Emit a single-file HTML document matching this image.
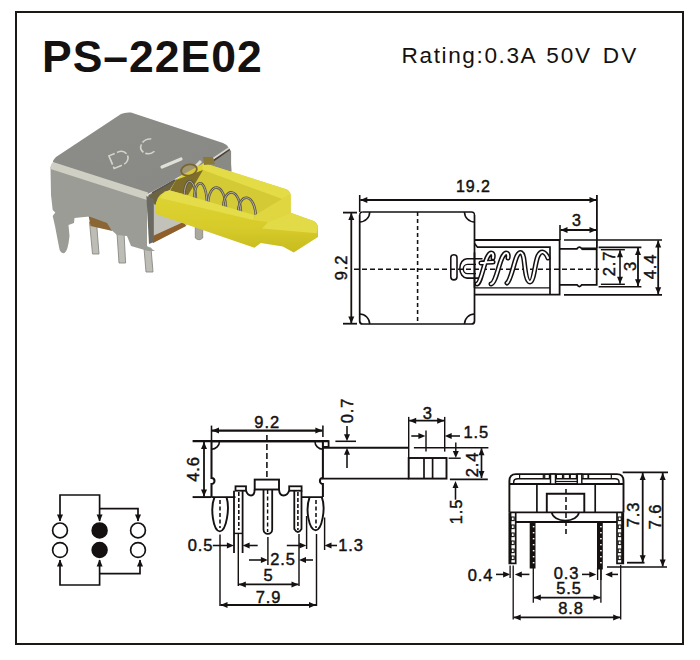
<!DOCTYPE html>
<html><head><meta charset="utf-8"><style>
html,body{margin:0;padding:0;background:#fff;}
body{width:700px;height:660px;overflow:hidden;position:relative;}
svg{position:absolute;left:0;top:0;}
text{font-family:"Liberation Sans",sans-serif;fill:#141110;}
.d text{stroke:#141110;stroke-width:0.45px;}
</style></head><body>
<svg width="700" height="660" viewBox="0 0 700 660">
<defs>
<filter id="soft" x="-5%" y="-5%" width="110%" height="110%"><feGaussianBlur stdDeviation="0.7"/></filter>
<linearGradient id="gTop" x1="0" y1="0" x2="1" y2="1"><stop offset="0" stop-color="#8c8c88"/><stop offset="1" stop-color="#888884"/></linearGradient>
<linearGradient id="gFront" x1="0" y1="0" x2="0" y2="1"><stop offset="0" stop-color="#aaaaa6"/><stop offset="1" stop-color="#a2a29e"/></linearGradient>
<linearGradient id="gYel" gradientUnits="userSpaceOnUse" x1="0" y1="195" x2="0" y2="250"><stop offset="0" stop-color="#ddd332"/><stop offset="0.6" stop-color="#d6cb2a"/><stop offset="1" stop-color="#c9bd22"/></linearGradient>
</defs>
<rect x="16" y="12" width="667" height="632" fill="none" stroke="#1c1816" stroke-width="2"/>
<text x="42" y="72" font-size="44.5" font-weight="bold" letter-spacing="1">PS&#8211;22E02</text>
<text y="63.3" font-size="22.6"><tspan x="401.6" letter-spacing="1.6">Rating:0.3A</tspan><tspan x="546.3" letter-spacing="1.8">50V</tspan><tspan x="602.8" letter-spacing="2.2">DV</tspan></text>
<g id="photo" filter="url(#soft)">
<path d="M195.3,226 H202.7 V238 Q199,241.5 195.3,238 Z" fill="#aaa89e" stroke="#858278" stroke-width="0.8"/>
<polygon points="89.5,222 96.5,222 99,254 92.5,254" fill="#bdbdb6" stroke="#8a8a84" stroke-width="0.9"/>
<polygon points="117,233 124,233 125.6,263 119,263" fill="#bdbdb6" stroke="#8a8a84" stroke-width="0.9"/>
<polygon points="144,248 151,248 153,272 146,272" fill="#bdbdb6" stroke="#8a8a84" stroke-width="0.9"/>
<polygon points="88.5,215.5 108,222 112.5,231 90.5,226" fill="#8a6634"/>
<polygon points="148,196 229,149 232,171 200,205 186,226 153,243" fill="#c2c2ba"/>
<polygon points="148,195 229,149 231.1,151 231.1,172 202,163 178,178 155,203" fill="#8a8a85"/>
<polygon points="148,196 190,172 202,170 176,180 169.7,190.3 155,205" fill="#6e6440"/>
<polygon points="150.6,237 183.5,222 186,226 153,243" fill="#8e5e2a"/>
<path d="M202,162.5 L287,189.5 Q290.5,191.5 290.7,195 L290.7,212.7 L314.3,221.2 Q317.5,223 318,226 L318,236.9 L293.7,252.6 L282.8,246.5 L260.8,243 L254.4,247.8 L155.9,214 L155.9,203 Q158,193 169.7,190.3 L178,178 Z" fill="url(#gYel)"/>
<polygon points="202,162.5 287,189.5 290.5,194 282,199 203,171" fill="#e4dc46"/>
<polygon points="176,180 203,170 282,199 255,215.3 170,190.7" fill="#d4ca34"/>
<polygon points="176,180 203,170 196,182 188,195 170,190.7" fill="#7e6e2c"/>
<path d="M184,198.8 C184,175 196,175 196,202.2" fill="none" stroke="#5a564a" stroke-width="2.6"/>
<path d="M184,198.8 C184,175 196,175 196,202.2" fill="none" stroke="#bdb9a8" stroke-width="0.9"/>
<path d="M194,201.7 C194,176.5 207,176.5 207,205.4" fill="none" stroke="#5a564a" stroke-width="2.6"/>
<path d="M194,201.7 C194,176.5 207,176.5 207,205.4" fill="none" stroke="#bdb9a8" stroke-width="0.9"/>
<path d="M208,205.7 C208,180.7 226,180.7 226,210.9" fill="none" stroke="#5a564a" stroke-width="2.6"/>
<path d="M208,205.7 C208,180.7 226,180.7 226,210.9" fill="none" stroke="#bdb9a8" stroke-width="0.9"/>
<path d="M223,210.1 C223,185.7 241,185.7 241,215.3" fill="none" stroke="#5a564a" stroke-width="2.6"/>
<path d="M223,210.1 C223,185.7 241,185.7 241,215.3" fill="none" stroke="#bdb9a8" stroke-width="0.9"/>
<path d="M238,214.4 C238,191.4 256,191.4 256,219.6" fill="none" stroke="#5a564a" stroke-width="2.6"/>
<path d="M238,214.4 C238,191.4 256,191.4 256,219.6" fill="none" stroke="#bdb9a8" stroke-width="0.9"/>
<path d="M169.7,190.3 L255,215.3 L253,220 L160,198 Q162,192 169.7,190.3 Z" fill="#e4dc48"/>
<polygon points="255,215.3 282,199 290.5,194 290.7,212.7 268,222 253,220" fill="#e0d740"/>
<polygon points="290.7,212.7 314.3,221.2 318,226 316.7,233.3 262,228.4 268,222" fill="#e3da46"/>
<path d="M50.5,167 L147,196 L147,246 L155,251 L148,251 L131,246 L127,236 L117,235 L111.4,230 L107,222.9 L89.3,216.4 L74.5,218 L74,223 L68.5,225 L69.5,236 Q68,251 64.5,253 Q60,254 59,247 L55,226 L52.7,216 L55.3,212.5 L52.7,210 L51,195 Z" fill="#9c9c96"/>
<path d="M121,114 Q125,112 131,112.5 L223,143 Q228,145 229,149 L148,194 L54,163 Q51,162 56,157 Z" fill="url(#gTop)"/>
<path d="M53,162 L148,192.5 L147,200 L50.5,169 Q50,165 53,162 Z" fill="#cfcfc3"/>
<polygon points="146.4,196 153.8,199 153.8,242 149,244" fill="#6a6a64"/>
<polyline points="162,167 181,159" stroke="#e0e0d6" stroke-width="3.2" fill="none" stroke-linecap="round"/>
<polyline points="211,162 229.5,149" stroke="#4c4038" stroke-width="2.2" fill="none"/>
<polyline points="212,159.5 229,148" stroke="#d8d8d0" stroke-width="1.6" fill="none"/>
<polygon points="203,157 213,157 215,164 204,165" fill="#8a7a38"/>
<polyline points="196,166 201,161" stroke="#dcdcd2" stroke-width="3" fill="none"/>
<ellipse cx="189" cy="170" rx="8" ry="5.5" fill="#c8b050" fill-opacity="0.35" stroke="#7a6630" stroke-width="1.8" transform="rotate(-15 189 170)"/>
<polyline points="152,193 175,180" stroke="#5a5650" stroke-width="1.8" fill="none"/>
<g transform="translate(121.5,158) rotate(-23) scale(1.2,1.05)" fill="none" stroke-width="1.4"><path d="M-9,-6.5 v13 h8 a6.5,6.5 0 0 0 0,-13 z" stroke="#d4d4ca" stroke-dasharray="9,2"/><path d="M29,-5.5 A7,6.8 0 1 0 29,5.5" stroke="#d4d4ca" stroke-dasharray="8,2"/></g>
</g>
<g class="d">
<path d="M362.7,212 H471.5 Q474.5,212 474.5,215" fill="none" stroke="#141110" stroke-width="1.32"/>
<path d="M359.7,215 Q359.7,212 362.7,212" fill="none" stroke="#141110" stroke-width="1.32"/>
<path d="M474.5,215 V321 Q474.5,324 471.5,324 H362.7 Q359.7,324 359.7,321 V215" fill="none" stroke="#141110" stroke-width="1.74"/>
<path d="M359.7,222 A10,10 0 0 0 369.7,212" fill="none" stroke="#141110" stroke-width="1.56"/>
<path d="M464.5,212 A10,10 0 0 0 474.5,222" fill="none" stroke="#141110" stroke-width="1.56"/>
<path d="M359.7,314 A10,10 0 0 1 369.7,324" fill="none" stroke="#141110" stroke-width="1.56"/>
<path d="M464.5,324 A10,10 0 0 1 474.5,314" fill="none" stroke="#141110" stroke-width="1.56"/>
<line x1="417.6" y1="212" x2="417.6" y2="324" stroke="#141110" stroke-width="1.56" stroke-dasharray="4,3"/>
<line x1="354" y1="269.3" x2="602" y2="269.3" stroke="#141110" stroke-width="1.44" stroke-dasharray="5,3"/>
<path d="M474.5,240 H559.6 V294.6 H474.5" fill="none" stroke="#141110" stroke-width="1.80"/>
<path d="M474.5,243.5 L477.5,247.2 H550 V294.6" fill="none" stroke="#141110" stroke-width="1.68"/>
<line x1="474.5" y1="287.8" x2="550" y2="287.8" stroke="#141110" stroke-width="1.32"/>
<path d="M559.6,248.8 H577 q2.4,-3.5 4.8,0 H596.7 V284.8 H581.8 q-2.4,3.5 -4.8,0 H559.6" fill="none" stroke="#141110" stroke-width="1.80"/>
<line x1="582" y1="248.8" x2="596.7" y2="248.8" stroke="#141110" stroke-width="2.64"/>
<rect x="450.8" y="254.7" width="6.2" height="25.2" rx="3.1" fill="none" stroke="#141110" stroke-width="1.56"/>
<path d="M482.5,258.7 H467 A7.2,9.7 0 0 0 467,278.1 H482.5" fill="none" stroke="#141110" stroke-width="1.56"/>
<path d="M476,264.4 H467.5 A4.2,4.6 0 0 0 467.5,273.6 H476" fill="none" stroke="#141110" stroke-width="1.44"/>
<line x1="474.5" y1="252.4" x2="474.5" y2="287.8" stroke="#141110" stroke-width="1.68"/>
<path d="M477,284 C481,283 484,262 488,256 C491,251 494,253 493,258 M481,263 C487,262 490,262 493,262 M491,284 C496,283 499,262 503,256 C506,251 509,253 508,258 M507,283 C511,280 514,262 517,256 C520,250 523,252 524,260 C525,268 526,282 530,282 C534,282 535,262 538,256 C541,250 545,251 548,258" fill="none" stroke="#141110" stroke-width="5.04" stroke-linecap="round"/>
<path d="M477,284 C481,283 484,262 488,256 C491,251 494,253 493,258 M481,263 C487,262 490,262 493,262 M491,284 C496,283 499,262 503,256 C506,251 509,253 508,258 M507,283 C511,280 514,262 517,256 C520,250 523,252 524,260 C525,268 526,282 530,282 C534,282 535,262 538,256 C541,250 545,251 548,258" fill="none" stroke="#fff" stroke-width="2.04" stroke-linecap="round"/>
<line x1="360.3" y1="200" x2="596.5" y2="200" stroke="#141110" stroke-width="2.04"/>
<polygon points="360.3,200.0 367.3,197.0 367.3,203.0" fill="#141110"/>
<polygon points="596.5,200.0 589.5,203.0 589.5,197.0" fill="#141110"/>
<line x1="359.7" y1="195" x2="359.7" y2="212" stroke="#141110" stroke-width="1.56"/>
<line x1="596.9" y1="195" x2="596.9" y2="248" stroke="#141110" stroke-width="1.80"/>
<text x="473.45" y="186" dy="0.36em" font-size="16" text-anchor="middle" letter-spacing="0.9" font-weight="normal" >19.2</text>
<line x1="351.3" y1="213" x2="351.3" y2="323.6" stroke="#141110" stroke-width="1.80"/>
<polygon points="351.3,213.0 354.3,220.0 348.3,220.0" fill="#141110"/>
<polygon points="351.3,323.6 348.3,316.6 354.3,316.6" fill="#141110"/>
<line x1="343" y1="212.6" x2="357" y2="212.6" stroke="#141110" stroke-width="1.80"/>
<line x1="343" y1="323.7" x2="357" y2="323.7" stroke="#141110" stroke-width="1.80"/>
<text transform="translate(341,267.55) rotate(-90)" x="0" y="0" dy="0.36em" font-size="16.5" text-anchor="middle" letter-spacing="0.9" font-weight="normal" >9.2</text>
<line x1="560.5" y1="230" x2="596.5" y2="230" stroke="#141110" stroke-width="1.80"/>
<polygon points="560.5,230.0 567.5,227.0 567.5,233.0" fill="#141110"/>
<polygon points="596.5,230.0 589.5,233.0 589.5,227.0" fill="#141110"/>
<line x1="560" y1="225" x2="560" y2="240" stroke="#141110" stroke-width="1.56"/>
<text x="576.95" y="220.5" dy="0.36em" font-size="16" text-anchor="middle" letter-spacing="0.9" font-weight="normal" >3</text>
<line x1="564" y1="240" x2="662" y2="240" stroke="#141110" stroke-width="1.68"/>
<line x1="564" y1="294.8" x2="662" y2="294.8" stroke="#141110" stroke-width="1.68"/>
<line x1="658.2" y1="240.5" x2="658.2" y2="294.3" stroke="#141110" stroke-width="1.80"/>
<polygon points="658.2,240.5 661.2,247.5 655.2,247.5" fill="#141110"/>
<polygon points="658.2,294.3 655.2,287.3 661.2,287.3" fill="#141110"/>
<text transform="translate(650.5,266.55) rotate(-90)" x="0" y="0" dy="0.36em" font-size="16.5" text-anchor="middle" letter-spacing="0.9" font-weight="normal" >4.4</text>
<line x1="598.6" y1="247.4" x2="641.4" y2="247.4" stroke="#141110" stroke-width="1.56"/>
<line x1="598.6" y1="286.8" x2="641.4" y2="286.8" stroke="#141110" stroke-width="1.56"/>
<line x1="638" y1="248" x2="638" y2="286.3" stroke="#141110" stroke-width="1.80"/>
<polygon points="638.0,248.0 641.0,255.0 635.0,255.0" fill="#141110"/>
<polygon points="638.0,286.3 635.0,279.3 641.0,279.3" fill="#141110"/>
<text transform="translate(630,266.05) rotate(-90)" x="0" y="0" dy="0.36em" font-size="16.5" text-anchor="middle" letter-spacing="0.9" font-weight="normal" >3</text>
<line x1="600.9" y1="249.7" x2="624.9" y2="249.7" stroke="#141110" stroke-width="1.44"/>
<line x1="600.9" y1="284.3" x2="624.9" y2="284.3" stroke="#141110" stroke-width="1.44"/>
<line x1="620" y1="250.2" x2="620" y2="283.8" stroke="#141110" stroke-width="1.56"/>
<polygon points="620.0,250.2 623.0,257.2 617.0,257.2" fill="#141110"/>
<polygon points="620.0,283.8 617.0,276.8 623.0,276.8" fill="#141110"/>
<text transform="translate(608.8,263.55) rotate(-90)" x="0" y="0" dy="0.36em" font-size="16.5" text-anchor="middle" letter-spacing="0.9" font-weight="normal" >2.7</text>
<path d="M211.5,441.2 H322.9 V478 a3,3 0 0 0 0,6 V497.1" fill="none" stroke="#141110" stroke-width="2.04"/>
<path d="M211.5,441.2 V478 a3,3 0 0 1 0,6 V497.1" fill="none" stroke="#141110" stroke-width="2.04"/>
<line x1="192.6" y1="441.2" x2="328.6" y2="441.2" stroke="#141110" stroke-width="2.16"/>
<path d="M322.9,441.2 H328.6 V446.9 H322.9" fill="none" stroke="#141110" stroke-width="1.80"/>
<path d="M211.5,449.2 A8,8 0 0 0 219.5,441.2" fill="none" stroke="#141110" stroke-width="1.56"/>
<path d="M314.9,441.2 A8,8 0 0 0 322.9,449.2" fill="none" stroke="#141110" stroke-width="1.56"/>
<path d="M211.5,497.1 H235.5 M246,490.5 Q247.5,495.5 251,495.5 Q254.5,495.5 254.7,489.5 M279,489.5 Q279.5,495.5 283.5,495.5 Q287.5,495.5 289.2,490.5 M301.6,497.1 H322.9" fill="none" stroke="#141110" stroke-width="1.92"/>
<line x1="192.6" y1="497.1" x2="211.5" y2="497.1" stroke="#141110" stroke-width="1.92"/>
<rect x="235.5" y="486.3" width="10.5" height="4.4" fill="#fff" stroke="#141110" stroke-width="1.80"/>
<rect x="289.2" y="486.3" width="12.4" height="4.4" fill="#fff" stroke="#141110" stroke-width="1.80"/>
<rect x="254.7" y="479.6" width="24.3" height="9.9" fill="#fff" stroke="#141110" stroke-width="1.92"/>
<line x1="266.9" y1="435" x2="266.9" y2="479" stroke="#141110" stroke-width="1.56" stroke-dasharray="6,3"/>
<line x1="267.6" y1="490" x2="267.6" y2="532" stroke="#141110" stroke-width="1.44" stroke-dasharray="4,2.5"/>
<line x1="267.9" y1="537" x2="267.9" y2="565" stroke="#141110" stroke-width="1.44"/>
<line x1="234" y1="490.7" x2="234" y2="553" stroke="#141110" stroke-width="1.80"/>
<line x1="242.6" y1="490.7" x2="242.6" y2="553" stroke="#141110" stroke-width="1.80"/>
<line x1="234" y1="533.4" x2="242.6" y2="533.4" stroke="#141110" stroke-width="1.44"/>
<path d="M294.3,490.7 V529 Q297.9,535 301.5,529 V490.7" fill="none" stroke="#141110" stroke-width="1.80"/>
<path d="M263.5,489.6 V529.5 a4.35,4.35 0 0 0 8.7,0 V489.6" fill="none" stroke="#141110" stroke-width="1.80"/>
<line x1="238.8" y1="492" x2="238.8" y2="530" stroke="#141110" stroke-width="1.56" stroke-dasharray="4,2"/>
<line x1="297.9" y1="492" x2="297.9" y2="530" stroke="#141110" stroke-width="1.56" stroke-dasharray="4,2"/>
<path d="M214.5,497.1 C210,508 213,531 219.8,531.4 C226.5,531 230,508 226.5,497.1" fill="none" stroke="#141110" stroke-width="1.92"/>
<path d="M309.6,497.1 C305,510 309,530 315.7,530.3 C322,530 326,508 321.8,497.1" fill="none" stroke="#141110" stroke-width="1.92"/>
<line x1="220" y1="500" x2="220" y2="528" stroke="#141110" stroke-width="1.56" stroke-dasharray="4,2.5"/>
<line x1="316" y1="500" x2="316" y2="528" stroke="#141110" stroke-width="1.56" stroke-dasharray="4,2.5"/>
<line x1="212" y1="430.6" x2="322.4" y2="430.6" stroke="#141110" stroke-width="2.16"/>
<polygon points="212.0,430.6 219.0,427.6 219.0,433.6" fill="#141110"/>
<polygon points="322.4,430.6 315.4,433.6 315.4,427.6" fill="#141110"/>
<line x1="211.5" y1="425.6" x2="211.5" y2="441" stroke="#141110" stroke-width="1.56"/>
<line x1="322.9" y1="425.6" x2="322.9" y2="437" stroke="#141110" stroke-width="1.56"/>
<text x="267.15" y="422" dy="0.36em" font-size="16.5" text-anchor="middle" letter-spacing="0.9" font-weight="normal" >9.2</text>
<line x1="204" y1="442" x2="204" y2="496.6" stroke="#141110" stroke-width="1.80"/>
<polygon points="204.0,442.0 207.0,449.0 201.0,449.0" fill="#141110"/>
<polygon points="204.0,496.6 201.0,489.6 207.0,489.6" fill="#141110"/>
<text transform="translate(192.6,469.05) rotate(-90)" x="0" y="0" dy="0.36em" font-size="16.5" text-anchor="middle" letter-spacing="0.9" font-weight="normal" >4.6</text>
<line x1="220" y1="534.6" x2="220" y2="606" stroke="#141110" stroke-width="1.44"/>
<line x1="238.3" y1="534" x2="238.3" y2="586" stroke="#141110" stroke-width="1.44"/>
<line x1="299" y1="534" x2="299" y2="586" stroke="#141110" stroke-width="1.44"/>
<line x1="306.6" y1="516" x2="306.6" y2="549" stroke="#141110" stroke-width="1.44"/>
<line x1="316.5" y1="534" x2="316.5" y2="606" stroke="#141110" stroke-width="1.44"/>
<line x1="324.6" y1="517.5" x2="324.6" y2="550" stroke="#141110" stroke-width="1.44"/>
<line x1="212.8" y1="545.5" x2="228" y2="545.5" stroke="#141110" stroke-width="1.56"/>
<polygon points="233.9,545.5 226.9,548.5 226.9,542.5" fill="#141110"/>
<line x1="248" y1="545.5" x2="257.7" y2="545.5" stroke="#141110" stroke-width="1.56"/>
<polygon points="242.6,545.5 249.6,542.5 249.6,548.5" fill="#141110"/>
<text x="200.45" y="545.5" dy="0.36em" font-size="16.5" text-anchor="middle" letter-spacing="0.9" font-weight="normal" >0.5</text>
<line x1="286.8" y1="545.5" x2="300" y2="545.5" stroke="#141110" stroke-width="1.56"/>
<polygon points="306.3,545.5 299.3,548.5 299.3,542.5" fill="#141110"/>
<line x1="330" y1="545.5" x2="337" y2="545.5" stroke="#141110" stroke-width="1.56"/>
<polygon points="324.5,545.5 331.5,542.5 331.5,548.5" fill="#141110"/>
<text x="350.95" y="545.5" dy="0.36em" font-size="16.5" text-anchor="middle" letter-spacing="0.9" font-weight="normal" >1.3</text>
<line x1="249" y1="560" x2="262" y2="560" stroke="#141110" stroke-width="1.56"/>
<polygon points="267.9,560.0 260.9,563.0 260.9,557.0" fill="#141110"/>
<line x1="305" y1="560" x2="313" y2="560" stroke="#141110" stroke-width="1.56"/>
<polygon points="299.0,560.0 306.0,557.0 306.0,563.0" fill="#141110"/>
<text x="282.95" y="559" dy="0.36em" font-size="16.5" text-anchor="middle" letter-spacing="0.9" font-weight="normal" >2.5</text>
<line x1="238.8" y1="584.4" x2="298.5" y2="584.4" stroke="#141110" stroke-width="1.80"/>
<polygon points="238.8,584.4 245.8,581.4 245.8,587.4" fill="#141110"/>
<polygon points="298.5,584.4 291.5,587.4 291.5,581.4" fill="#141110"/>
<text x="268.45" y="575.3" dy="0.36em" font-size="16.5" text-anchor="middle" letter-spacing="0.9" font-weight="normal" >5</text>
<line x1="220.5" y1="605" x2="316" y2="605" stroke="#141110" stroke-width="1.80"/>
<polygon points="220.5,605.0 227.5,602.0 227.5,608.0" fill="#141110"/>
<polygon points="316.0,605.0 309.0,608.0 309.0,602.0" fill="#141110"/>
<text x="268.45" y="597" dy="0.36em" font-size="16.5" text-anchor="middle" letter-spacing="0.9" font-weight="normal" >7.9</text>
<path d="M322,447.7 H408.7 M322,478.6 H408.7" stroke="#141110" stroke-width="1.92" fill="none"/>
<rect x="408.7" y="458" width="37.8" height="20.6" fill="none" stroke="#141110" stroke-width="1.92"/>
<line x1="424" y1="458" x2="424" y2="478.6" stroke="#141110" stroke-width="1.68"/>
<line x1="432.6" y1="458" x2="432.6" y2="478.6" stroke="#141110" stroke-width="1.68"/>
<line x1="335.4" y1="441.3" x2="356" y2="441.3" stroke="#141110" stroke-width="1.56"/>
<line x1="347" y1="425.9" x2="347" y2="436" stroke="#141110" stroke-width="1.56"/>
<polygon points="347.0,441.3 344.0,434.3 350.0,434.3" fill="#141110"/>
<line x1="347" y1="453" x2="347" y2="468" stroke="#141110" stroke-width="1.56"/>
<polygon points="347.0,447.7 350.0,454.7 344.0,454.7" fill="#141110"/>
<text transform="translate(347.5,410.55) rotate(-90)" x="0" y="0" dy="0.36em" font-size="16.5" text-anchor="middle" letter-spacing="0.9" font-weight="normal" >0.7</text>
<line x1="409.2" y1="420.7" x2="444.2" y2="420.7" stroke="#141110" stroke-width="1.80"/>
<polygon points="409.2,420.7 416.2,417.7 416.2,423.7" fill="#141110"/>
<polygon points="444.2,420.7 437.2,423.7 437.2,417.7" fill="#141110"/>
<line x1="408.7" y1="416.9" x2="408.7" y2="458" stroke="#141110" stroke-width="1.44"/>
<line x1="444.7" y1="416.9" x2="444.7" y2="451.6" stroke="#141110" stroke-width="1.44"/>
<text x="427.84999999999997" y="413.5" dy="0.36em" font-size="16.5" text-anchor="middle" letter-spacing="0.9" font-weight="normal" >3</text>
<line x1="411.3" y1="436" x2="420" y2="436" stroke="#141110" stroke-width="1.56"/>
<polygon points="425.4,436.0 418.4,439.0 418.4,433.0" fill="#141110"/>
<line x1="426" y1="430.5" x2="426" y2="451.6" stroke="#141110" stroke-width="1.44"/>
<line x1="450" y1="436" x2="460" y2="436" stroke="#141110" stroke-width="1.56"/>
<polygon points="444.7,436.0 451.7,433.0 451.7,439.0" fill="#141110"/>
<text x="476.25" y="432" dy="0.36em" font-size="16.5" text-anchor="middle" letter-spacing="0.9" font-weight="normal" >1.5</text>
<line x1="413.9" y1="447.7" x2="488.4" y2="447.7" stroke="#141110" stroke-width="1.44"/>
<line x1="481.5" y1="448.2" x2="481.5" y2="478.1" stroke="#141110" stroke-width="1.68"/>
<polygon points="481.5,448.2 484.5,455.2 478.5,455.2" fill="#141110"/>
<polygon points="481.5,478.1 478.5,471.1 484.5,471.1" fill="#141110"/>
<line x1="449.9" y1="479.3" x2="487.8" y2="479.3" stroke="#141110" stroke-width="1.68"/>
<text transform="translate(471.7,464.55) rotate(-90)" x="0" y="0" dy="0.36em" font-size="16.5" text-anchor="middle" letter-spacing="0.9" font-weight="normal" >2.4</text>
<line x1="455.8" y1="442.6" x2="455.8" y2="452" stroke="#141110" stroke-width="1.44"/>
<polygon points="455.8,458.0 452.8,451.0 458.8,451.0" fill="#141110"/>
<line x1="448.6" y1="458.2" x2="460.7" y2="458.2" stroke="#141110" stroke-width="1.44"/>
<line x1="455.5" y1="487" x2="455.5" y2="499.7" stroke="#141110" stroke-width="1.56"/>
<polygon points="455.5,481.1 458.5,488.1 452.5,488.1" fill="#141110"/>
<text transform="translate(456,511.55) rotate(-90)" x="0" y="0" dy="0.36em" font-size="16.5" text-anchor="middle" letter-spacing="0.9" font-weight="normal" >1.5</text>
<path d="M509.4,512.4 V481 Q509.4,474.1 516,474.1 H617 Q623.5,474.1 623.5,481 V512.4" fill="none" stroke="#141110" stroke-width="1.92"/>
<path d="M513.7,484 V482 Q513.7,478.8 518,478.8 H550.5 M555.5,478.8 H577.3 M581.8,478.8 H615 Q619,478.8 619,482 V484" fill="none" stroke="#141110" stroke-width="1.44"/>
<line x1="509.4" y1="484" x2="623.5" y2="484" stroke="#141110" stroke-width="1.92"/>
<line x1="519.6" y1="474.5" x2="519.6" y2="478.8" stroke="#141110" stroke-width="1.20"/>
<line x1="543.3" y1="474.5" x2="543.3" y2="478.8" stroke="#141110" stroke-width="1.20"/>
<line x1="544.7" y1="474.5" x2="544.7" y2="478.8" stroke="#141110" stroke-width="1.20"/>
<line x1="549.4" y1="474.5" x2="549.4" y2="478.8" stroke="#141110" stroke-width="1.20"/>
<line x1="556.4" y1="474.5" x2="556.4" y2="478.8" stroke="#141110" stroke-width="1.20"/>
<line x1="562.5" y1="474.5" x2="562.5" y2="478.8" stroke="#141110" stroke-width="1.20"/>
<line x1="563.7" y1="474.5" x2="563.7" y2="478.8" stroke="#141110" stroke-width="1.20"/>
<line x1="569.5" y1="474.5" x2="569.5" y2="478.8" stroke="#141110" stroke-width="1.20"/>
<line x1="570.3" y1="474.5" x2="570.3" y2="478.8" stroke="#141110" stroke-width="1.20"/>
<line x1="576.4" y1="474.5" x2="576.4" y2="478.8" stroke="#141110" stroke-width="1.20"/>
<line x1="583" y1="474.5" x2="583" y2="478.8" stroke="#141110" stroke-width="1.20"/>
<line x1="588" y1="474.5" x2="588" y2="478.8" stroke="#141110" stroke-width="1.20"/>
<line x1="588.6" y1="474.5" x2="588.6" y2="478.8" stroke="#141110" stroke-width="1.20"/>
<line x1="611.3" y1="474.5" x2="611.3" y2="478.8" stroke="#141110" stroke-width="1.20"/>
<rect x="550.5" y="474.1" width="5" height="9.9" fill="#fff" stroke="#141110" stroke-width="1.44"/>
<rect x="577.3" y="474.1" width="4.5" height="9.9" fill="#fff" stroke="#141110" stroke-width="1.44"/>
<line x1="556" y1="481.5" x2="577" y2="481.5" stroke="#141110" stroke-width="1.20"/>
<line x1="536.9" y1="484" x2="536.9" y2="512.4" stroke="#141110" stroke-width="1.68"/>
<line x1="595.2" y1="484" x2="595.2" y2="512.4" stroke="#141110" stroke-width="1.68"/>
<path d="M546.8,512.4 V493.8 H584.3 V512.4" fill="none" stroke="#141110" stroke-width="1.92"/>
<line x1="509.4" y1="512.4" x2="623.5" y2="512.4" stroke="#141110" stroke-width="1.92"/>
<line x1="515.7" y1="522" x2="617" y2="522" stroke="#141110" stroke-width="1.92"/>
<path d="M551.7,512.4 A13.7,9 0 0 0 579,512.4" fill="none" stroke="#141110" stroke-width="1.68"/>
<path d="M509.3,512.4 V563.3 H515.7 V512.4" fill="none" stroke="#141110" stroke-width="1.68"/>
<path d="M617,512.4 V563.3 H623.3 V512.4" fill="none" stroke="#141110" stroke-width="1.68"/>
<line x1="510.2" y1="513" x2="510.2" y2="563" stroke="#141110" stroke-width="2.40"/>
<line x1="622.4" y1="513" x2="622.4" y2="563" stroke="#141110" stroke-width="2.40"/>
<rect x="511.2" y="517" width="3" height="3.6" fill="none" stroke="#141110" stroke-width="1.08"/>
<rect x="618.2" y="517" width="3" height="3.6" fill="none" stroke="#141110" stroke-width="1.08"/>
<rect x="511.2" y="525" width="3" height="3.6" fill="none" stroke="#141110" stroke-width="1.08"/>
<rect x="618.2" y="525" width="3" height="3.6" fill="none" stroke="#141110" stroke-width="1.08"/>
<rect x="511.2" y="533" width="3" height="3.6" fill="none" stroke="#141110" stroke-width="1.08"/>
<rect x="618.2" y="533" width="3" height="3.6" fill="none" stroke="#141110" stroke-width="1.08"/>
<rect x="511.2" y="541" width="3" height="3.6" fill="none" stroke="#141110" stroke-width="1.08"/>
<rect x="618.2" y="541" width="3" height="3.6" fill="none" stroke="#141110" stroke-width="1.08"/>
<rect x="511.2" y="549" width="3" height="3.6" fill="none" stroke="#141110" stroke-width="1.08"/>
<rect x="618.2" y="549" width="3" height="3.6" fill="none" stroke="#141110" stroke-width="1.08"/>
<rect x="511.2" y="556" width="3" height="3.6" fill="none" stroke="#141110" stroke-width="1.08"/>
<rect x="618.2" y="556" width="3" height="3.6" fill="none" stroke="#141110" stroke-width="1.08"/>
<rect x="529.7" y="522.5" width="5.8" height="46" fill="#141110"/>
<rect x="597" y="522.5" width="5.8" height="47" fill="#141110"/>
<rect x="532.8" y="526" width="1.6" height="1.4" fill="#fff"/>
<rect x="600.1" y="526" width="1.6" height="1.4" fill="#fff"/>
<rect x="532.8" y="532" width="1.6" height="1.4" fill="#fff"/>
<rect x="600.1" y="532" width="1.6" height="1.4" fill="#fff"/>
<rect x="532.8" y="538" width="1.6" height="1.4" fill="#fff"/>
<rect x="600.1" y="538" width="1.6" height="1.4" fill="#fff"/>
<rect x="532.8" y="544" width="1.6" height="1.4" fill="#fff"/>
<rect x="600.1" y="544" width="1.6" height="1.4" fill="#fff"/>
<rect x="532.8" y="550" width="1.6" height="1.4" fill="#fff"/>
<rect x="600.1" y="550" width="1.6" height="1.4" fill="#fff"/>
<rect x="532.8" y="556" width="1.6" height="1.4" fill="#fff"/>
<rect x="600.1" y="556" width="1.6" height="1.4" fill="#fff"/>
<rect x="532.8" y="562" width="1.6" height="1.4" fill="#fff"/>
<rect x="600.1" y="562" width="1.6" height="1.4" fill="#fff"/>
<line x1="566" y1="489" x2="566" y2="537" stroke="#141110" stroke-width="1.56" stroke-dasharray="5,3"/>
<line x1="622.7" y1="472.4" x2="668" y2="472.4" stroke="#141110" stroke-width="1.56"/>
<line x1="642.7" y1="473" x2="642.7" y2="562.2" stroke="#141110" stroke-width="1.80"/>
<polygon points="642.7,473.0 645.7,480.0 639.7,480.0" fill="#141110"/>
<polygon points="642.7,562.2 639.7,555.2 645.7,555.2" fill="#141110"/>
<line x1="627" y1="562.7" x2="644.5" y2="562.7" stroke="#141110" stroke-width="1.80"/>
<line x1="662.7" y1="473" x2="662.7" y2="566.5" stroke="#141110" stroke-width="1.80"/>
<polygon points="662.7,473.0 665.7,480.0 659.7,480.0" fill="#141110"/>
<polygon points="662.7,566.5 659.7,559.5 665.7,559.5" fill="#141110"/>
<line x1="607" y1="567" x2="667" y2="567" stroke="#141110" stroke-width="1.56"/>
<text transform="translate(633,514.55) rotate(-90)" x="0" y="0" dy="0.36em" font-size="16.5" text-anchor="middle" letter-spacing="0.9" font-weight="normal" >7.3</text>
<text transform="translate(655,516.55) rotate(-90)" x="0" y="0" dy="0.36em" font-size="16.5" text-anchor="middle" letter-spacing="0.9" font-weight="normal" >7.6</text>
<line x1="496" y1="574.4" x2="504" y2="574.4" stroke="#141110" stroke-width="1.56"/>
<polygon points="510.1,574.4 503.1,577.4 503.1,571.4" fill="#141110"/>
<line x1="510.1" y1="565.4" x2="510.1" y2="578" stroke="#141110" stroke-width="1.32"/>
<line x1="513.2" y1="565.4" x2="513.2" y2="619.4" stroke="#141110" stroke-width="1.32"/>
<line x1="521" y1="574.4" x2="529.4" y2="574.4" stroke="#141110" stroke-width="1.56"/>
<polygon points="514.8,574.4 521.8,571.4 521.8,577.4" fill="#141110"/>
<text x="480.45" y="575" dy="0.36em" font-size="16.5" text-anchor="middle" letter-spacing="0.9" font-weight="normal" >0.4</text>
<line x1="620.7" y1="565" x2="620.7" y2="619.4" stroke="#141110" stroke-width="1.32"/>
<line x1="513.7" y1="617.4" x2="620.2" y2="617.4" stroke="#141110" stroke-width="1.80"/>
<polygon points="513.7,617.4 520.7,614.4 520.7,620.4" fill="#141110"/>
<polygon points="620.2,617.4 613.2,620.4 613.2,614.4" fill="#141110"/>
<text x="570.95" y="608.2" dy="0.36em" font-size="16.5" text-anchor="middle" letter-spacing="0.9" font-weight="normal" >8.8</text>
<line x1="533.3" y1="568" x2="533.3" y2="602.7" stroke="#141110" stroke-width="1.32"/>
<line x1="600.9" y1="568" x2="600.9" y2="602.7" stroke="#141110" stroke-width="1.32"/>
<line x1="533.8" y1="597.6" x2="600.4" y2="597.6" stroke="#141110" stroke-width="1.80"/>
<polygon points="533.8,597.6 540.8,594.6 540.8,600.6" fill="#141110"/>
<polygon points="600.4,597.6 593.4,600.6 593.4,594.6" fill="#141110"/>
<text x="569.0500000000001" y="588.3" dy="0.36em" font-size="16.5" text-anchor="middle" letter-spacing="0.9" font-weight="normal" >5.5</text>
<text x="566.45" y="573" dy="0.36em" font-size="16.5" text-anchor="middle" letter-spacing="0.9" font-weight="normal" >0.3</text>
<line x1="582" y1="574.4" x2="590" y2="574.4" stroke="#141110" stroke-width="1.56"/>
<polygon points="596.3,574.4 589.3,577.4 589.3,571.4" fill="#141110"/>
<line x1="597.6" y1="568" x2="597.6" y2="580" stroke="#141110" stroke-width="1.32"/>
<line x1="601" y1="568" x2="601" y2="580" stroke="#141110" stroke-width="1.32"/>
<line x1="611" y1="574.4" x2="618" y2="574.4" stroke="#141110" stroke-width="1.56"/>
<polygon points="605.3,574.4 612.3,571.4 612.3,577.4" fill="#141110"/>
<circle cx="60" cy="530.4" r="7.4" fill="#fff" stroke="#141110" stroke-width="1.68"/>
<circle cx="60" cy="550" r="7.4" fill="#fff" stroke="#141110" stroke-width="1.68"/>
<circle cx="99.6" cy="530.4" r="7.4" fill="#141110" stroke="#141110" stroke-width="1.68"/>
<circle cx="99.6" cy="550" r="7.4" fill="#141110" stroke="#141110" stroke-width="1.68"/>
<circle cx="138" cy="530.4" r="7.4" fill="#fff" stroke="#141110" stroke-width="1.68"/>
<circle cx="138" cy="550" r="7.4" fill="#fff" stroke="#141110" stroke-width="1.68"/>
<path d="M60,521 V495 H99.6 V521 M99.6,508.6 H138 V521" fill="none" stroke="#141110" stroke-width="1.68"/>
<polygon points="60.0,521.5 57.0,514.5 63.0,514.5" fill="#141110"/>
<polygon points="99.6,521.5 96.6,514.5 102.6,514.5" fill="#141110"/>
<polygon points="138.0,521.5 135.0,514.5 141.0,514.5" fill="#141110"/>
<path d="M60,560 V585 H99.6 V560 M99.6,573.6 H140 V560" fill="none" stroke="#141110" stroke-width="1.68"/>
<polygon points="60.0,559.5 63.0,566.5 57.0,566.5" fill="#141110"/>
<polygon points="99.6,559.5 102.6,566.5 96.6,566.5" fill="#141110"/>
<polygon points="140.0,559.5 143.0,566.5 137.0,566.5" fill="#141110"/>
</g>
</svg>
</body></html>
